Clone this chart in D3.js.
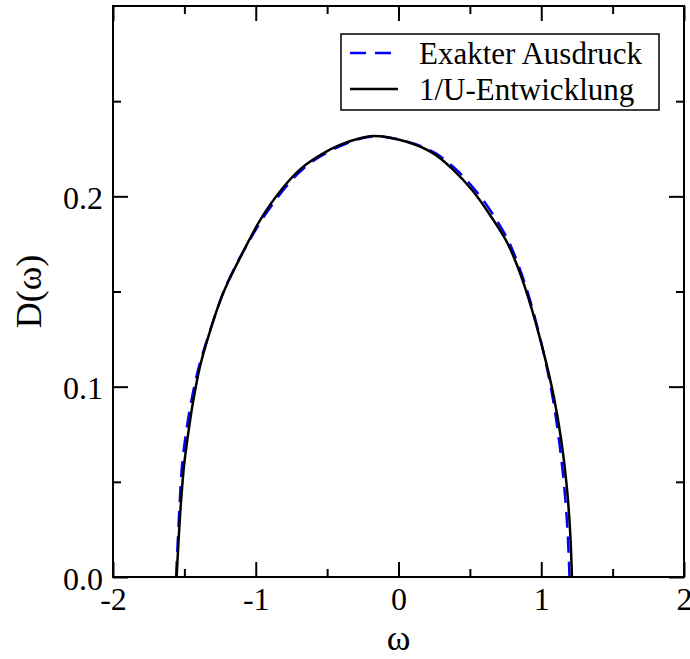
<!DOCTYPE html>
<html>
<head>
<meta charset="utf-8">
<script src="https://cdn.jsdelivr.net/npm/d3@7"></script>
<style>
  body { margin: 0; background: #fff; }
  svg { display: block; font-family: "Liberation Serif", "Times New Roman", serif; }
</style>
</head>
<body>
<svg id="chart"></svg>
<script>
// omega values and D(omega)
const exactOmega = [-1.558, -1.548, -1.534, -1.517, -1.489, -1.450, -1.398, -1.334, -1.247, -1.200, -1.082, -0.886, -0.651, -0.403, -0.177, 0.057, 0.249, 0.396, 0.536, 0.655, 0.767, 0.844, 0.921, 1.012, 1.079, 1.124, 1.161, 1.185, 1.198];
const exactD = [0.000, 0.016, 0.037, 0.058, 0.0755, 0.093, 0.1105, 0.1263, 0.1456, 0.1543, 0.1718, 0.1955, 0.2156, 0.2265, 0.2315, 0.2288, 0.2231, 0.2147, 0.2034, 0.1913, 0.1771, 0.1631, 0.1456, 0.1193, 0.0947, 0.0720, 0.0475, 0.0230, 0.000];

const expOmega = [-1.554, -1.543, -1.526, -1.503, -1.473, -1.437, -1.391, -1.332, -1.247, -1.198, -1.082, -0.982, -0.900, -0.783, -0.667, -0.527, -0.410, -0.270, -0.177, 0.057, 0.244, 0.384, 0.524, 0.641, 0.758, 0.834, 0.914, 1.012, 1.088, 1.140, 1.179, 1.203, 1.215];
const expD = [0.000, 0.016, 0.037, 0.058, 0.0755, 0.093, 0.1105, 0.1263, 0.1456, 0.1543, 0.1718, 0.1859, 0.1955, 0.2069, 0.2156, 0.2226, 0.2270, 0.2305, 0.2317, 0.2287, 0.2226, 0.2139, 0.2025, 0.1902, 0.1762, 0.1631, 0.1456, 0.1193, 0.0947, 0.0720, 0.0475, 0.0230, 0.000];

const xMajor = [-2, -1, 0, 1, 2];
const xMinor = [-1.5, -0.5, 0.5, 1.5];
const yMajor = [0, 0.1, 0.2];
const yMinor = [0.05, 0.15, 0.25];
const xLabels = ["-2", "-1", "0", "1", "2"];
const yLabels = ["0.0", "0.1", "0.2"];

const seriesNames = ["Exakter Ausdruck", "1/U-Entwicklung"];

const width = 690, height = 659;
const frame = { left: 113, right: 684, top: 6, bottom: 577 };

const svg = d3.select("#chart").attr("width", width).attr("height", height);

const x = d3.scaleLinear().domain([-2, 2]).range([frame.left, frame.right]);
const y = d3.scaleLinear().domain([0, 0.3]).range([frame.bottom, frame.top]);

// axes with inward ticks
const addAxis = (axisFn, scale, ticks, size, translate, labels) => {
  const ax = axisFn(scale).tickValues(ticks).tickSizeInner(-size).tickSizeOuter(0).tickPadding(labels ? 10 : 0);
  if (labels) ax.tickFormat(labels);
  else ax.tickFormat("");
  const g = svg.append("g").attr("transform", translate).call(ax);
  g.select(".domain").remove();
  g.selectAll(".tick line").attr("stroke", "#000").attr("stroke-width", 2);
  g.selectAll(".tick text").attr("fill", "#000").style("font-size", "32px").style("font-family", "Liberation Serif");
  return g;
};

const bx = addAxis(d3.axisBottom, x, xMajor, 15, `translate(0,${frame.bottom})`, (d, i) => xLabels[i]);
bx.selectAll(".tick text").attr("dy", "0.71em");
addAxis(d3.axisBottom, x, xMinor, 8, `translate(0,${frame.bottom})`, null);
addAxis(d3.axisTop, x, xMajor, 15, `translate(0,${frame.top})`, null);
addAxis(d3.axisTop, x, xMinor, 8, `translate(0,${frame.top})`, null);

const ly = addAxis(d3.axisLeft, y, yMajor, 15, `translate(${frame.left},0)`, (d, i) => yLabels[i]);
ly.selectAll(".tick text").attr("dy", "0.38em");
addAxis(d3.axisLeft, y, yMinor, 8, `translate(${frame.left},0)`, null);
addAxis(d3.axisRight, y, yMajor, 15, `translate(${frame.right},0)`, null);
addAxis(d3.axisRight, y, yMinor, 8, `translate(${frame.right},0)`, null);

// curves
const line = d3.line()
  .x((d) => x(d[0]))
  .y((d) => y(d[1]))
  .curve(d3.curveCatmullRom.alpha(0.5));

svg.append("path")
  .datum(exactOmega.map((w, i) => [w, exactD[i]]))
  .attr("d", line)
  .attr("fill", "none")
  .attr("stroke", "#0000ff")
  .attr("stroke-width", 2.5)
  .attr("stroke-dasharray", "16,9");

svg.append("path")
  .datum(expOmega.map((w, i) => [w, expD[i]]))
  .attr("d", line)
  .attr("fill", "none")
  .attr("stroke", "#000")
  .attr("stroke-width", 2.5);

// frame
svg.append("rect")
  .attr("x", frame.left)
  .attr("y", frame.top)
  .attr("width", frame.right - frame.left)
  .attr("height", frame.bottom - frame.top)
  .attr("fill", "none")
  .attr("stroke", "#000")
  .attr("stroke-width", 2);

// axis labels
svg.append("text")
  .attr("x", (frame.left + frame.right) / 2)
  .attr("y", 650)
  .attr("text-anchor", "middle")
  .style("font-size", "36px")
  .text("ω");

svg.append("text")
  .attr("transform", `translate(41,${(frame.top + frame.bottom) / 2}) rotate(-90)`)
  .attr("text-anchor", "middle")
  .style("font-size", "36px")
  .text("D(ω)");

// legend
const legend = svg.append("g");
legend.append("rect")
  .attr("x", 341).attr("y", 34)
  .attr("width", 318).attr("height", 76)
  .attr("fill", "#fff")
  .attr("stroke", "#000")
  .attr("stroke-width", 1.5);

const legendStyles = [
  { color: "#0000ff", dash: "16,9", x2: 391 },
  { color: "#000", dash: null, x2: 398 },
];
seriesNames.forEach((name, i) => {
  const yy = 53 + i * 36;
  legend.append("line")
    .attr("x1", 350).attr("x2", legendStyles[i].x2)
    .attr("y1", yy).attr("y2", yy)
    .attr("stroke", legendStyles[i].color)
    .attr("stroke-width", 2.5)
    .attr("stroke-dasharray", legendStyles[i].dash);
  legend.append("text")
    .attr("x", 419)
    .attr("y", yy + 11)
    .style("font-size", "31px")
    .style("font-family", "Liberation Serif")
    .text(name);
});
</script>
</body>
</html>
